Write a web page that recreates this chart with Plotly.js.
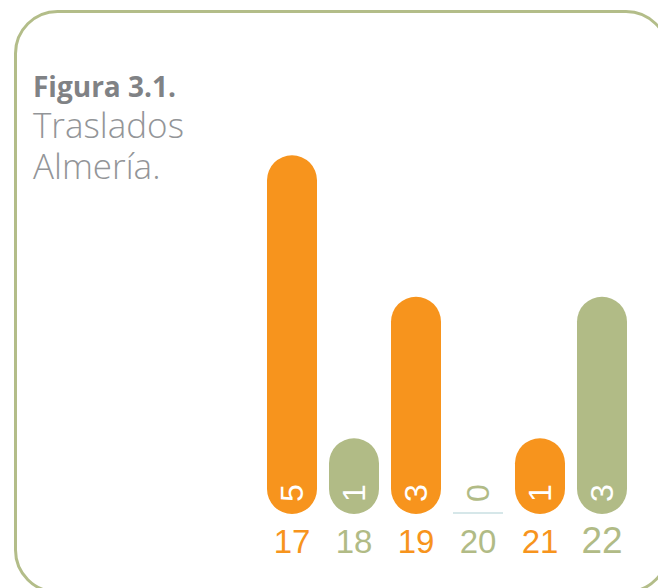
<!DOCTYPE html>
<html>
<head>
<meta charset="utf-8">
<script src="https://cdn.plot.ly/plotly-3.0.1.min.js"></script>
<style>
  html, body { margin: 0; padding: 0; background: #ffffff; }
  #chart { width: 658px; height: 588px; }
</style>
</head>
<body>
<div id="chart"></div>
<script>
// ---- data ----
const categories = ['17', '18', '19', '20', '21', '22'];
const values = [5, 1, 3, 0, 1, 3];
const barColors = ['#f7941d', '#b1bb86', '#f7941d', '#b1bb86', '#f7941d', '#b1bb86'];
const tickSizes = [33, 33, 33, 33, 33, 37];
const titleLines = ['Figura 3.1.', 'Traslados', 'Almería.'];

// ---- layout geometry ----
const W = 658, H = 588;
const M = { l: 261, r: 25, t: 100, b: 74 };
const plotW = W - M.l - M.r, plotH = H - M.t - M.b;
const PX_PER_UNIT = 70.75;
const BASE = -5 / PX_PER_UNIT;            // bars start a few px below zero
const Y_MAX = BASE + plotH / PX_PER_UNIT;
const BARGAP = 12 / 62;

const px2x = px => (px - M.l) / plotW;
const px2y = py => (H - M.b - py) / plotH;

const idx = categories.map((c, i) => i);

// bars
const barY = values.map(v => v > 0 ? v - BASE : 0);
const trace = {
  type: 'bar',
  x: idx,
  y: barY,
  base: BASE,
  marker: { color: barColors, cornerradius: '50%', line: { width: 0 } },
  hoverinfo: 'skip'
};

// value labels (rotated, at bottom of bars)
const valueAnnots = idx.map(i => ({
  x: i, y: BASE, xref: 'x', yref: 'y',
  text: String(values[i]),
  showarrow: false,
  textangle: -90,
  xanchor: 'center', yanchor: 'middle',
  yshift: 21,
  font: { family: 'Liberation Sans, Arial, sans-serif', size: 32,
          color: values[i] > 0 ? '#ffffff' : barColors[i] }
}));

// title block (one annotation, three styled lines)
const titleText =
  '<span style="font-size:28px;font-weight:700;fill:#808285">' + titleLines[0] + '</span><br>' +
  '<span style="font-size:35px;font-weight:300">' + titleLines[1] + '</span><br>' +
  '<span style="font-size:35px;font-weight:300">' + titleLines[2] + '</span>';
const titleAnnot = {
  xref: 'paper', yref: 'paper',
  x: px2x(31), y: px2y(128),
  xanchor: 'left', yanchor: 'middle', align: 'left',
  text: titleText, showarrow: false,
  font: { family: 'Open Sans, sans-serif', size: 31.5, weight: 300, color: '#939598' }
};

// rounded border frame
function roundedRectPath(x0, y0, x1, y1, r) {
  const k = 0.5523 * r;
  const P = (px, py) => px2x(px) + ',' + px2y(py);
  return 'M' + P(x0 + r, y0) +
    ' L' + P(x1 - r, y0) +
    ' C' + P(x1 - r + k, y0) + ' ' + P(x1, y0 + r - k) + ' ' + P(x1, y0 + r) +
    ' L' + P(x1, y1 - r) +
    ' C' + P(x1, y1 - r + k) + ' ' + P(x1 - r + k, y1) + ' ' + P(x1 - r, y1) +
    ' L' + P(x0 + r, y1) +
    ' C' + P(x0 + r - k, y1) + ' ' + P(x0, y1 - r + k) + ' ' + P(x0, y1 - r) +
    ' L' + P(x0, y0 + r) +
    ' C' + P(x0, y0 + r - k) + ' ' + P(x0 + r - k, y0) + ' ' + P(x0 + r, y0) + ' Z';
}

const shapes = [
  {
    type: 'path', xref: 'paper', yref: 'paper',
    path: roundedRectPath(15.5, 11.5, 668, 592, 42),
    line: { color: '#b3bd89', width: 3 }, fillcolor: 'rgba(0,0,0,0)', layer: 'below'
  }
];
// thin baseline marker for zero-valued bars
values.forEach((v, i) => {
  if (v === 0) {
    const half = (1 - BARGAP) / 2;
    shapes.push({
      type: 'line', xref: 'x', yref: 'y',
      x0: i - half, x1: i + half, y0: BASE + 0.015, y1: BASE + 0.015,
      line: { color: '#c9dfe2', width: 1.5 }
    });
  }
});

const layout = {
  width: W, height: H,
  margin: M,
  paper_bgcolor: '#ffffff', plot_bgcolor: '#ffffff',
  showlegend: false,
  bargap: BARGAP,
  xaxis: {
    type: 'linear',
    range: [-0.5, categories.length - 0.5],
    tickmode: 'array',
    tickvals: idx,
    ticktext: categories.map((c, i) =>
      '<span style="fill:' + barColors[i] + ';font-size:' + tickSizes[i] + 'px">' + c + '</span>'),
    tickangle: 0,
    ticklabelstandoff: 5,
    tickfont: { family: 'Liberation Sans, Arial, sans-serif', size: 33 },
    showgrid: false, zeroline: false, showline: false, ticks: '',
    fixedrange: true
  },
  yaxis: {
    range: [BASE, Y_MAX],
    visible: false, showgrid: false, zeroline: false, fixedrange: true
  },
  annotations: [titleAnnot].concat(valueAnnots),
  shapes: shapes
};

Plotly.newPlot('chart', [trace], layout, { displayModeBar: false, staticPlot: true });
</script>
</body>
</html>
